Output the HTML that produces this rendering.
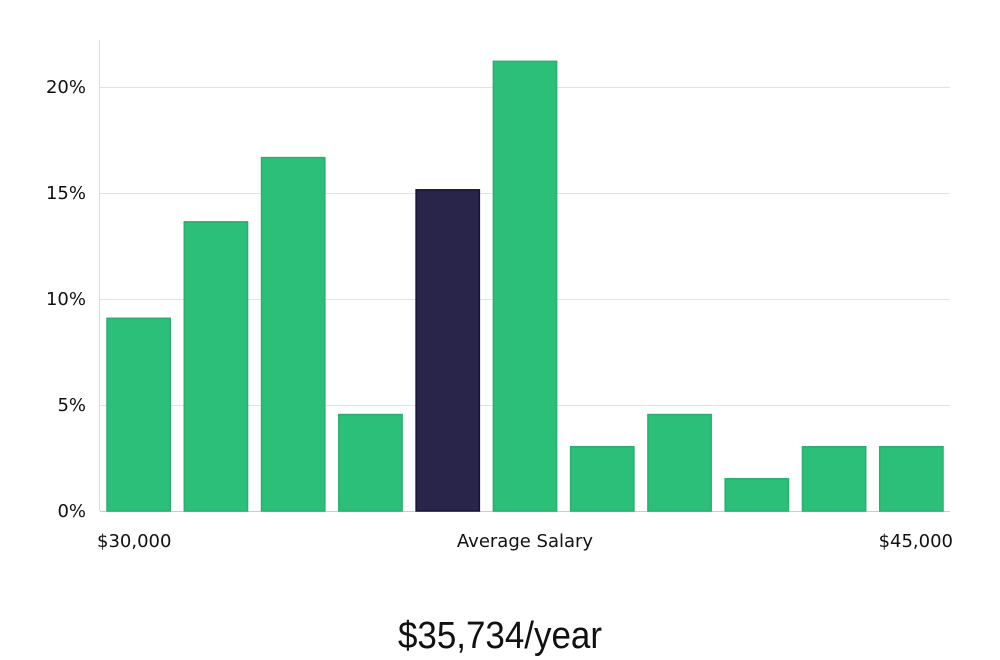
<!DOCTYPE html>
<html><head><meta charset="utf-8"><style>
html,body{margin:0;padding:0;background:#fff;width:1000px;height:660px;overflow:hidden}
svg text{font-family:"DejaVu Sans","Liberation Sans",sans-serif;fill:#111}
</style></head><body>
<svg id="chart" width="1000" height="660" viewBox="0 0 1000 660" xmlns="http://www.w3.org/2000/svg">
<g id="grid"></g><g id="bars"></g><g id="labels"></g>
<text x="97" y="547" font-size="18">$30,000</text>
<text x="525" y="547" font-size="18" text-anchor="middle">Average Salary</text>
<text x="953" y="547" font-size="18" text-anchor="end">$45,000</text>
<text x="500" y="648" font-size="38" text-anchor="middle" style="font-family:'Liberation Sans Narrow','Liberation Sans',sans-serif;font-weight:300" transform="translate(500 0) scale(0.92 1) translate(-500 0)">$35,734/year</text>
</svg>
<script>
const categories=["b1","b2","b3","b4","b5","b6","b7","b8","b9","b10","b11"];
const values=[9.09,13.64,16.67,4.55,15.15,21.21,3.03,4.55,1.52,3.03,3.03];
const highlightIndex=4;
const yTicks=[0,5,10,15,20];
const tickLabels=["0%","5%","10%","15%","20%"];
const NS="http://www.w3.org/2000/svg";
const x0=100,x1=950,yBase=511,pxPer=21.2;
function y(v){return yBase-v*pxPer;}
const pitch=(x1-x0)/categories.length;
function x(i){return x0+i*pitch+7;}
const bw=pitch-14;
function mk(t,a){const e=document.createElementNS(NS,t);for(const k in a)e.setAttribute(k,a[k]);return e;}
const grid=document.getElementById('grid'),bars=document.getElementById('bars'),labels=document.getElementById('labels');
const ax=mk('line',{x1:99.5,x2:99.5,y1:40,y2:yBase,stroke:'#ddd'});


grid.appendChild(ax);
yTicks.forEach((t,i)=>{
 const l=mk('line',{x1:x0,x2:x1,y1:y(t)+0.5,y2:y(t)+0.5,stroke:i===0?'#ccc':'#e2e2e2'});
 
 
 grid.appendChild(l);
 const tk=mk('text',{x:86,y:y(t)+6,'font-size':18,'text-anchor':'end'});
 tk.textContent=tickLabels[i];
 
 
 labels.appendChild(tk);
});
values.forEach((v,i)=>{
 const hl=i===highlightIndex;
 const r=mk('rect',{x:x(i),y:y(v),width:bw,height:yBase-y(v),fill:hl?'#29254a':'#2cbf79',stroke:hl?'#151233':'#27b06f','stroke-width':1.5});
 
 
 bars.appendChild(r);
});
</script>
</body></html>
